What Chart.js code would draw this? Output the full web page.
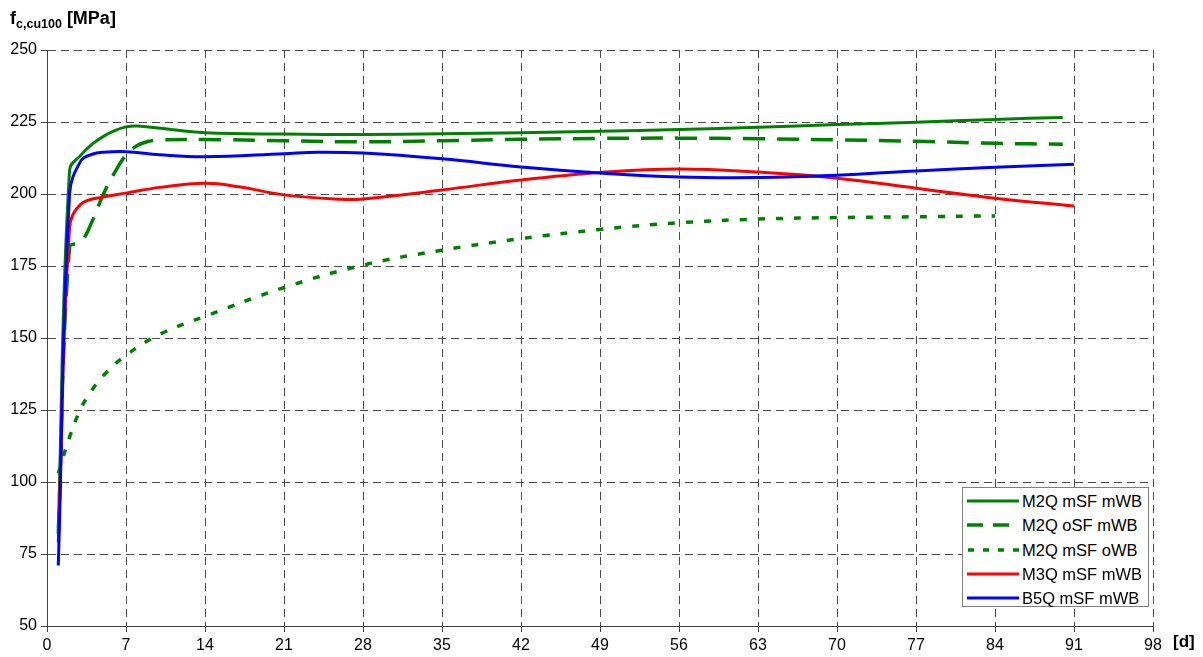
<!DOCTYPE html>
<html>
<head>
<meta charset="utf-8">
<script src="https://cdn.jsdelivr.net/npm/chart.js@4.4.1/dist/chart.umd.min.js"></script>
<style>
  html, body { margin: 0; padding: 0; background: #fff; }
  #wrap { position: relative; width: 1203px; height: 657px; font-family: "Liberation Sans", Arial, sans-serif; }
  #c { position: absolute; left: 0; top: 0; }
  #ytitle { position: absolute; left: 10px; top: 8px; font-weight: bold; font-size: 18px; color: #000; white-space: nowrap; }
  #ytitle sub { font-size: 12.5px; vertical-align: -4px; }
  #xtitle { position: absolute; left: 1173px; top: 632px; font-weight: bold; font-size: 17px; color: #000; }
  #legend { position: absolute; left: 962px; top: 487px; width: 187px; height: 120px; border: 1px solid #808080; background: #fff; box-sizing: border-box; }
  .row { position: absolute; left: 3px; height: 20px; display: flex; align-items: center; font-size: 16.5px; color: #000; white-space: nowrap; }
  .row svg { width: 54px; height: 20px; margin-right: 2px; }
</style>
</head>
<body>
<div id="wrap">
  <canvas id="c" width="1203" height="657"></canvas>
  <div id="ytitle">f<sub>c,cu100</sub> [MPa]</div>
  <div id="xtitle">[d]</div>
  <div id="legend"></div>
</div>
<script>
// ---- data ----
const xTicks = [0, 7, 14, 21, 28, 35, 42, 49, 56, 63, 70, 77, 84, 91, 98];
const yTicks = [50, 75, 100, 125, 150, 175, 200, 225, 250];

const seriesNames = ["M2Q mSF mWB", "M2Q oSF mWB", "M2Q mSF oWB", "M3Q mSF mWB", "B5Q mSF mWB"];

const daysA = [1, 2, 3, 4, 5, 6, 7, 8, 10, 14, 21, 28, 35, 42, 49, 56, 63, 70, 77, 84, 90];
const valsA = [84, 208.3, 213.5, 217.3, 220, 222, 223.3, 223.6, 222.8, 221.3, 220.8, 220.7, 220.9, 221.3, 221.8, 222.4, 223.2, 224.1, 224.9, 225.9, 226.6];

const daysB = [1, 2, 3, 4, 5, 6, 7, 8, 9, 10, 14, 21, 28, 35, 42, 49, 56, 63, 70, 77, 84, 90];
const valsB = [82, 181.6, 183.3, 190.5, 200, 207.5, 213.5, 216.8, 218.3, 218.75, 218.9, 218.5, 218.1, 218.5, 219, 219.3, 219.4, 219.2, 218.8, 218.3, 217.6, 217.3];

const daysC = [1, 2, 3, 4, 5, 7, 10, 14, 21, 28, 35, 42, 49, 56, 63, 70, 77, 84];
const valsC = [103, 115.6, 125.5, 132, 137, 144, 151.3, 157.5, 167.5, 175.3, 180.5, 184.5, 187.7, 190, 191.3, 191.8, 192.1, 192.4];

const daysD = [1, 2, 3, 5, 7, 10, 14, 17, 21, 26, 28, 35, 42, 49, 56, 63, 70, 77, 84, 91];
const valsD = [79, 188.5, 196.5, 199, 200.3, 202.3, 203.7, 202.5, 199.7, 198.2, 198.3, 201.4, 204.9, 207.5, 208.7, 207.6, 205.5, 202, 198.5, 195.8];

const daysE = [1, 2, 3, 4, 5, 7, 10, 14, 21, 24, 28, 35, 42, 49, 56, 63, 70, 77, 84, 91];
const valsE = [71, 200, 211.5, 213.8, 214.5, 214.7, 213.6, 212.9, 214.0, 214.5, 214.2, 212.2, 209.4, 207.3, 205.9, 205.7, 206.5, 208, 209.3, 210.3];

// ---- styles ----
const colors = ["#008000", "#008000", "#008000", "#FF0000", "#0000FF"];
const dashes = [[], [22, 12], [7, 11], [], []];
const widths = [3, 3.5, 3.5, 3, 3];

const toXY = (d, v) => d.map((x, i) => ({ x: x, y: v[i] }));
const allDays = [daysA, daysB, daysC, daysD, daysE];
const allVals = [valsA, valsB, valsC, valsD, valsE];
const drawOrder = [3, 4, 2, 1, 0];

const datasets = seriesNames.map((name, i) => ({
  label: name,
  data: toXY(allDays[i], allVals[i]),
  borderColor: colors[i],
  backgroundColor: colors[i],
  borderWidth: widths[i],
  borderDash: dashes[i],
  borderCapStyle: 'butt',
  pointRadius: 0,
  pointHoverRadius: 0,
  tension: 0.4,
  fill: false,
  order: drawOrder[i]
}));

const tickFont = { family: '"Liberation Sans", Arial, sans-serif', size: 16 };

new Chart(document.getElementById('c'), {
  type: 'line',
  data: { datasets: datasets },
  options: {
    responsive: false,
    animation: false,
    events: [],
    layout: { padding: { left: 0, top: 50, right: 50, bottom: 0 } },
    plugins: { legend: { display: false }, tooltip: { enabled: false } },
    scales: {
      x: {
        type: 'linear',
        min: 0, max: 98,
        afterBuildTicks: s => { s.ticks = xTicks.map(v => ({ value: v })); },
        afterFit: s => { s.height = 31; },
        ticks: { font: tickFont, color: '#000', padding: 4, maxRotation: 0, autoSkip: false },
        grid: { color: '#4a4a4a', lineWidth: 1, tickLength: 6, tickColor: '#404040', tickBorderDash: [] },
        border: { color: '#404040', width: 1, dash: [8, 5] }
      },
      y: {
        type: 'linear',
        min: 50, max: 250,
        afterBuildTicks: s => { s.ticks = yTicks.map(v => ({ value: v })); },
        afterFit: s => { s.width = 47; },
        ticks: { font: tickFont, color: '#000', padding: 4, autoSkip: false },
        grid: { color: '#4a4a4a', lineWidth: 1, tickLength: 6, tickColor: '#404040', tickBorderDash: [] },
        border: { color: '#404040', width: 1, dash: [8, 5] }
      }
    }
  }
});

// ---- legend (HTML, real text) ----
const legend = document.getElementById('legend');
const rowTops = [3, 27, 52, 76, 100];
seriesNames.forEach((name, i) => {
  const row = document.createElement('div');
  row.className = 'row';
  row.style.top = (rowTops[i]) + 'px';
  const da = dashes[i].length ? (i === 1 ? '16 10' : '6 9') : 'none';
  const off = i === 2 ? '-1' : '0';
  row.innerHTML = '<svg viewBox="0 0 54 20"><line x1="1" y1="10" x2="53" y2="10" stroke="' + colors[i] +
    '" stroke-width="' + (i === 0 || i > 2 ? 3 : 3.5) + '" stroke-dasharray="' + da + '" stroke-dashoffset="' + off + '"/></svg><span>' + name + '</span>';
  legend.appendChild(row);
});
</script>
</body>
</html>
